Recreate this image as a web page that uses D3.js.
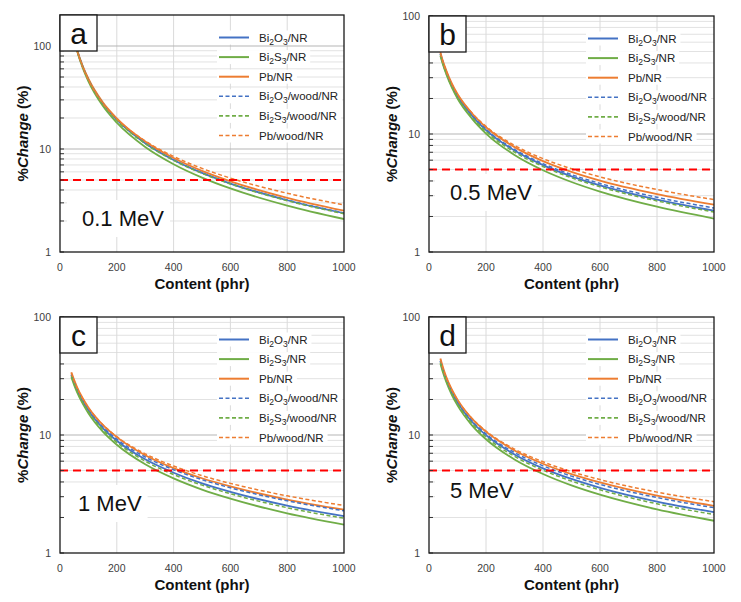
<!DOCTYPE html>
<html>
<head>
<meta charset="utf-8">
<script src="https://cdn.jsdelivr.net/npm/d3@7"></script>
<style>
  html, body { margin: 0; padding: 0; background: #fff; }
  svg { display: block; font-family: "Liberation Sans", Arial, sans-serif; }
</style>
</head>
<body>
<svg id="chart" width="741" height="602"></svg>
<script>
// ---------------- DATA ----------------
const content = [40, 50, 60, 80, 100, 150, 200, 300, 400, 500, 600, 800, 1000];
const seriesLabels = ["Bi2O3/NR", "Bi2S3/NR", "Pb/NR", "Bi2O3/wood/NR", "Bi2S3/wood/NR", "Pb/wood/NR"];
const panelLetters = ["a", "b", "c", "d"];
const energyLabels = ["0.1 MeV", "0.5 MeV", "1 MeV", "5 MeV"];
const yMaxes = [200, 100, 100, 100];
const xTicks = [0, 200, 400, 600, 800, 1000];
const yTicks = [1, 10, 100];
const threshold = 5;

// Panel a: 0.1 MeV
const a_Bi2O3_NR      = [154.7, 115.9, 91.5, 63.0, 47.2, 27.9, 19.25, 11.37, 7.83, 5.86, 4.62, 3.18, 2.38];
const a_Bi2S3_NR      = [154.7, 114.8, 89.9, 61.2, 45.4, 26.4, 18.0, 10.46, 7.12, 5.28, 4.14, 2.82, 2.09];
const a_Pb_NR         = [154.7, 116.4, 92.2, 63.9, 48.1, 28.6, 19.85, 11.81, 8.17, 6.13, 4.86, 3.36, 2.52];
const a_Bi2O3_wood_NR = [154.7, 116.0, 91.5, 63.1, 47.3, 27.97, 19.3, 11.41, 7.86, 5.88, 4.64, 3.20, 2.39];
const a_Bi2S3_wood_NR = [154.7, 115.8, 91.3, 62.8, 47.0, 27.8, 19.1, 11.28, 7.76, 5.80, 4.58, 3.15, 2.35];
const a_Pb_wood_NR    = [154.7, 115.0, 90.4, 62.2, 46.8, 28.0, 19.66, 11.97, 8.47, 6.48, 5.22, 3.72, 2.86];

// Panel b: 0.5 MeV
const b_Bi2O3_NR      = [47.8, 39.5, 33.9, 25.9, 21.0, 14.39, 10.80, 7.24, 5.45, 4.38, 3.67, 2.78, 2.24];
const b_Bi2S3_NR      = [46.0, 38.0, 32.5, 24.8, 20.0, 13.56, 10.08, 6.64, 4.93, 3.92, 3.25, 2.42, 1.92];
const b_Pb_NR         = [49.2, 40.7, 34.9, 26.8, 21.8, 15.07, 11.40, 7.74, 5.89, 4.78, 4.03, 3.10, 2.52];
const b_Bi2O3_wood_NR = [47.8, 39.6, 33.9, 26.0, 21.1, 14.54, 10.96, 7.40, 5.61, 4.53, 3.81, 2.91, 2.36];
const b_Bi2S3_wood_NR = [46.5, 38.4, 32.9, 25.2, 20.4, 13.98, 10.50, 7.03, 5.30, 4.26, 3.57, 2.71, 2.18];
const b_Pb_wood_NR    = [48.3, 40.0, 34.3, 26.5, 21.6, 15.15, 11.59, 8.01, 6.18, 5.08, 4.33, 3.38, 2.78];

// Panel c: 1 MeV
const c_Bi2O3_NR      = [32.5, 27.8, 24.3, 19.45, 16.23, 11.51, 8.95, 6.22, 4.79, 3.89, 3.30, 2.52, 2.05];
const c_Bi2S3_NR      = [30.95, 26.47, 23.1, 18.42, 15.31, 10.74, 8.27, 5.65, 4.29, 3.45, 2.89, 2.17, 1.74];
const c_Pb_NR         = [34.0, 29.15, 25.5, 20.47, 17.14, 12.25, 9.59, 6.74, 5.24, 4.30, 3.67, 2.84, 2.33];
const c_Bi2O3_wood_NR = [32.5, 27.8, 24.35, 19.56, 16.4, 11.75, 9.22, 6.51, 5.08, 4.18, 3.57, 2.77, 2.28];
const c_Bi2S3_wood_NR = [31.6, 27.0, 23.6, 18.88, 15.76, 11.16, 8.67, 6.01, 4.62, 3.76, 3.18, 2.42, 1.97];
const c_Pb_wood_NR    = [33.4, 28.6, 25.1, 20.2, 17.0, 12.28, 9.70, 6.93, 5.46, 4.52, 3.89, 3.05, 2.53];

// Panel d: 5 MeV
const d_Bi2O3_NR      = [42.4, 35.0, 29.9, 23.1, 18.9, 13.02, 9.97, 6.84, 5.22, 4.24, 3.57, 2.73, 2.22];
const d_Bi2S3_NR      = [40.35, 33.3, 28.4, 21.9, 17.82, 12.14, 9.20, 6.20, 4.67, 3.74, 3.12, 2.34, 1.875];
const d_Pb_NR         = [44.4, 36.7, 31.3, 24.3, 19.95, 13.84, 10.67, 7.40, 5.71, 4.66, 3.96, 3.06, 2.51];
const d_Bi2O3_wood_NR = [42.4, 35.0, 29.9, 23.2, 19.06, 13.24, 10.21, 7.10, 5.48, 4.48, 3.81, 2.95, 2.42];
const d_Bi2S3_wood_NR = [41.2, 34.0, 29.0, 22.45, 18.34, 12.61, 9.64, 6.59, 5.03, 4.07, 3.43, 2.61, 2.12];
const d_Pb_wood_NR    = [43.6, 36.0, 30.8, 24.0, 19.78, 13.87, 10.79, 7.60, 5.93, 4.89, 4.19, 3.28, 2.72];

const panelSeries = [
  [a_Bi2O3_NR, a_Bi2S3_NR, a_Pb_NR, a_Bi2O3_wood_NR, a_Bi2S3_wood_NR, a_Pb_wood_NR],
  [b_Bi2O3_NR, b_Bi2S3_NR, b_Pb_NR, b_Bi2O3_wood_NR, b_Bi2S3_wood_NR, b_Pb_wood_NR],
  [c_Bi2O3_NR, c_Bi2S3_NR, c_Pb_NR, c_Bi2O3_wood_NR, c_Bi2S3_wood_NR, c_Pb_wood_NR],
  [d_Bi2O3_NR, d_Bi2S3_NR, d_Pb_NR, d_Bi2O3_wood_NR, d_Bi2S3_wood_NR, d_Pb_wood_NR]
];

// ---------------- STYLE / LAYOUT ----------------
const colors = ["#4472C4", "#70AD47", "#ED7D31", "#4472C4", "#70AD47", "#ED7D31"];
const dashed = [false, false, false, true, true, true];

const layouts = [
  {L: 60,  R: 344, T: 15,  B: 252, lab: {dx: 22, cy: 203}},
  {L: 429, R: 714, T: 16,  B: 252, lab: {dx: 21, cy: 176}},
  {L: 60,  R: 344, T: 317, B: 553, lab: {dx: 18, cy: 186}},
  {L: 429, R: 714, T: 317, B: 553, lab: {dx: 21, cy: 173}}
];

const svg = d3.select("#chart");

function addSubText(sel, label, fs, subfs) {
  const parts = label.split(/(\d)/).filter(s => s.length);
  let inSub = false;
  parts.forEach(p => {
    const isDigit = /^\d$/.test(p);
    const t = sel.append("tspan").text(p);
    if (isDigit) {
      t.attr("font-size", subfs).attr("dy", inSub ? 0 : 3);
      inSub = true;
    } else {
      if (inSub) t.attr("dy", -3);
      inSub = false;
    }
  });
}

layouts.forEach((lay, pi) => {
  const {L, R, T, B} = lay;
  const yMax = yMaxes[pi];
  const x = d3.scaleLinear().domain([0, 1000]).range([L, R]);
  const y = d3.scaleLog().domain([1, yMax]).range([B, T]);
  const g = svg.append("g");

  // minor horizontal gridlines
  const minor = [];
  [1, 10, 100].forEach(dec => { for (let m = 2; m <= 9; m++) { const v = dec * m; if (v < yMax) minor.push(v); } });
  g.selectAll(".minor").data(minor).enter().append("line")
    .attr("x1", L).attr("x2", R)
    .attr("y1", d => y(d)).attr("y2", d => y(d))
    .attr("stroke", "#e2e2e2").attr("stroke-width", 1);
  // vertical gridlines
  g.selectAll(".vg").data(xTicks.filter(v => v > 0 && v < 1000)).enter().append("line")
    .attr("x1", d => x(d)).attr("x2", d => x(d))
    .attr("y1", T).attr("y2", B)
    .attr("stroke", "#dadada").attr("stroke-width", 1);
  // major horizontal gridlines
  g.selectAll(".major").data(yTicks.filter(v => v < yMax && v > 1)).enter().append("line")
    .attr("x1", L).attr("x2", R)
    .attr("y1", d => y(d)).attr("y2", d => y(d))
    .attr("stroke", "#b5b5b5").attr("stroke-width", 1);

  // clip
  const clipId = "clip" + pi;
  svg.append("defs").append("clipPath").attr("id", clipId)
    .append("rect").attr("x", L).attr("y", T).attr("width", R - L).attr("height", B - T);

  // curves
  const line = d3.line()
    .x((d, i) => x(content[i]))
    .y(d => y(d))
    .curve(d3.curveMonotoneX);
  const cg = g.append("g").attr("clip-path", `url(#${clipId})`);
  panelSeries[pi].forEach((vals, si) => {
    cg.append("path")
      .attr("d", line(vals))
      .attr("fill", "none")
      .attr("stroke", colors[si])
      .attr("stroke-width", dashed[si] ? 1.5 : 1.8)
      .attr("stroke-dasharray", dashed[si] ? "4,2.5" : null);
  });

  // threshold
  g.append("line")
    .attr("x1", L).attr("x2", R)
    .attr("y1", y(threshold)).attr("y2", y(threshold))
    .attr("stroke", "#FF0000").attr("stroke-width", 2)
    .attr("stroke-dasharray", "8,5");

  // energy label
  const lx = L + lay.lab.dx, lcy = T + lay.lab.cy;
  const et = g.append("text")
    .attr("x", lx).attr("y", lcy + 8)
    .attr("font-size", 22).attr("fill", "#111")
    .text(energyLabels[pi]);
  const ew = et.node().getComputedTextLength();
  g.insert("rect", () => et.node())
    .attr("x", lx - 15).attr("y", lcy - 18)
    .attr("width", ew + 21).attr("height", 37)
    .attr("fill", "#fff");

  // y minor/major ticks inside
  g.selectAll(".yt").data(minor.concat(yTicks.filter(v => v <= yMax))).enter().append("line")
    .attr("x1", L).attr("x2", L + 4)
    .attr("y1", d => y(d)).attr("y2", d => y(d))
    .attr("stroke", "#333").attr("stroke-width", 1);

  // frame
  g.append("rect")
    .attr("x", L).attr("y", T).attr("width", R - L).attr("height", B - T)
    .attr("fill", "none").attr("stroke", "#1a1a1a").attr("stroke-width", 1.3);

  // panel letter box
  g.append("rect")
    .attr("x", L).attr("y", T).attr("width", 37).attr("height", 36)
    .attr("fill", "#fff").attr("stroke", "#1a1a1a").attr("stroke-width", 1.3);
  g.append("text")
    .attr("x", L + 18.5).attr("y", T + 29)
    .attr("text-anchor", "middle").attr("font-size", 30).attr("fill", "#111")
    .text(panelLetters[pi]);

  // legend
  seriesLabels.forEach((lbl, si) => {
    const cy = T + 22.5 + si * 19.6;
    const lg = g.append("g");
    const bg = lg.append("rect");
    lg.append("line")
      .attr("x1", L + 159).attr("x2", L + 189)
      .attr("y1", cy).attr("y2", cy)
      .attr("stroke", colors[si])
      .attr("stroke-width", dashed[si] ? 1.6 : 2)
      .attr("stroke-dasharray", dashed[si] ? "4,2.5" : null);
    const tx = lg.append("text")
      .attr("x", L + 199).attr("y", cy + 4)
      .attr("font-size", 11.5).attr("fill", "#222");
    addSubText(tx, lbl, 11.5, 8.5);
    const tw = tx.node().getComputedTextLength();
    bg.attr("x", L + 157).attr("y", cy - 7).attr("width", 199 - 157 + tw + 4).attr("height", 14).attr("fill", "#fff");
  });

  // x tick labels
  g.selectAll(".xtl").data(xTicks).enter().append("text")
    .attr("x", d => x(d)).attr("y", B + 19)
    .attr("text-anchor", "middle").attr("font-size", 10.5).attr("fill", "#404040")
    .text(d => d);
  // y tick labels
  g.selectAll(".ytl").data(yTicks.filter(v => v <= yMax)).enter().append("text")
    .attr("x", L - 9).attr("y", d => y(d) + 3.7)
    .attr("text-anchor", "end").attr("font-size", 10.5).attr("fill", "#404040")
    .text(d => d);

  // axis titles
  g.append("text")
    .attr("x", (L + R) / 2).attr("y", B + 37)
    .attr("text-anchor", "middle").attr("font-size", 15).attr("font-weight", "bold").attr("fill", "#111")
    .text("Content (phr)");
  const yt = g.append("text")
    .attr("transform", `translate(${L - 37},${(T + B) / 2}) rotate(-90)`)
    .attr("dy", "0.35em")
    .attr("text-anchor", "middle").attr("font-size", 15).attr("font-weight", "bold").attr("fill", "#111");
  yt.append("tspan").text("%");
  yt.append("tspan").attr("font-style", "italic").text("Change");
  yt.append("tspan").text(" (%)");
});
</script>
</body>
</html>
